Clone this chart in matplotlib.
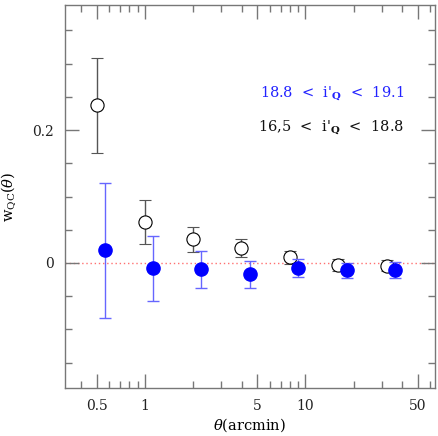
import matplotlib
matplotlib.use("Agg")
import matplotlib.pyplot as plt
from matplotlib.ticker import FixedLocator, NullFormatter, FixedFormatter

plt.rcParams['font.family'] = ['DejaVu Serif']
plt.rcParams['mathtext.fontset'] = 'dejavuserif'

# Bright sample 16.5 < i'Q < 18.8 (open circles)
theta_b = [0.5, 1.0, 2.0, 3.96, 8.0, 16.0, 32.0]
w_b = [0.238, 0.061, 0.036, 0.023, 0.0085, -0.003, -0.004]
w_b_hi = [0.308, 0.095, 0.054, 0.036, 0.0185, 0.006, 0.004]
w_b_lo = [0.165, 0.028, 0.017, 0.0095, -0.002, -0.012, -0.012]

# Faint sample 18.8 < i'Q < 19.1 (filled circles)
theta_f = [0.563, 1.117, 2.23, 4.51, 8.94, 18.06, 36.1]
w_f = [0.0195, -0.008, -0.009, -0.017, -0.008, -0.011, -0.010]
w_f_hi = [0.121, 0.041, 0.0185, 0.003, 0.0055, 0.0, 0.001]
w_f_lo = [-0.082, -0.057, -0.0376, -0.037, -0.0215, -0.0225, -0.023]

xticks = [0.5, 1, 5, 10, 50]
xticklabels = ['0.5', '1', '5', '10', '50']
yticks = [0.0, 0.2]
yticklabels = ['0', '0.2']

W, H = 439, 436
fig = plt.figure(figsize=(W/100, H/100), dpi=100)
ax = fig.add_axes([65/W, 1-388/H, (435-65)/W, (388-5)/H])
ax.set_xscale('log')
ax.set_xlim(0.318, 64.1)
ax.set_ylim(-0.188, 0.388)

ax.axhline(0, color='#ff7070', ls=(0, (1, 2)), lw=1.0, zorder=1)

yerr_b = [[w - lo for w, lo in zip(w_b, w_b_lo)], [hi - w for w, hi in zip(w_b, w_b_hi)]]
yerr_f = [[w - lo for w, lo in zip(w_f, w_f_lo)], [hi - w for w, hi in zip(w_f, w_f_hi)]]

ax.errorbar(theta_b, w_b, yerr=yerr_b, fmt='o', mfc='white', mec='black', mew=0.8,
            ms=9.5, ecolor='#555555', elinewidth=1.0, capsize=4.5, capthick=1.0, zorder=3)
ax.errorbar(theta_f, w_f, yerr=yerr_f, fmt='o', mfc='#0000ff', mec='#0000ff',
            ms=9.5, ecolor='#6666ff', elinewidth=1.0, capsize=4.5, capthick=1.0, zorder=4)

spine_col = '#777777'
for s in ax.spines.values():
    s.set_color(spine_col)
    s.set_linewidth(1.0)

ax.xaxis.set_major_locator(FixedLocator(xticks))
ax.xaxis.set_major_formatter(FixedFormatter(xticklabels))
minor_x = [0.4, 0.6, 0.7, 0.8, 0.9, 2, 3, 4, 6, 7, 8, 9, 20, 30, 40, 60]
ax.xaxis.set_minor_locator(FixedLocator(minor_x))
ax.xaxis.set_minor_formatter(NullFormatter())

ax.yaxis.set_major_locator(FixedLocator(yticks))
ax.yaxis.set_major_formatter(FixedFormatter(yticklabels))
ax.yaxis.set_minor_locator(FixedLocator([-0.15, -0.1, -0.05, 0.05, 0.1, 0.15, 0.25, 0.3, 0.35]))
ax.yaxis.set_minor_formatter(NullFormatter())

ax.tick_params(which='both', direction='in', top=True, right=True, color=spine_col, width=1.0)
ax.tick_params(which='major', length=10, labelsize=10, pad=8, labelcolor='#222222')
ax.tick_params(which='minor', length=5)

ax.set_xlabel(r'$\theta$(arcmin)', fontsize=10.5, labelpad=2)
ax.set_ylabel(r'w$_{\mathregular{QC}}$($\theta$)', fontsize=10.5, labelpad=10)

ax.text(404, 93, r"18.8  <  i'$_{\mathbf{Q}}$  <  19.1", transform=None, color='#2222ff',
        fontsize=10.5, ha='right', va='center')
ax.text(404, 127, r"16,5  <  i'$_{\mathbf{Q}}$  <  18.8", transform=None, color='#111111',
        fontsize=10.5, ha='right', va='center')

# transform=None uses display coords with origin at bottom-left; convert
for t in ax.texts:
    x, y = t.get_position()
    t.set_position((x, H - y))

fig.savefig('out.png', dpi=100)
